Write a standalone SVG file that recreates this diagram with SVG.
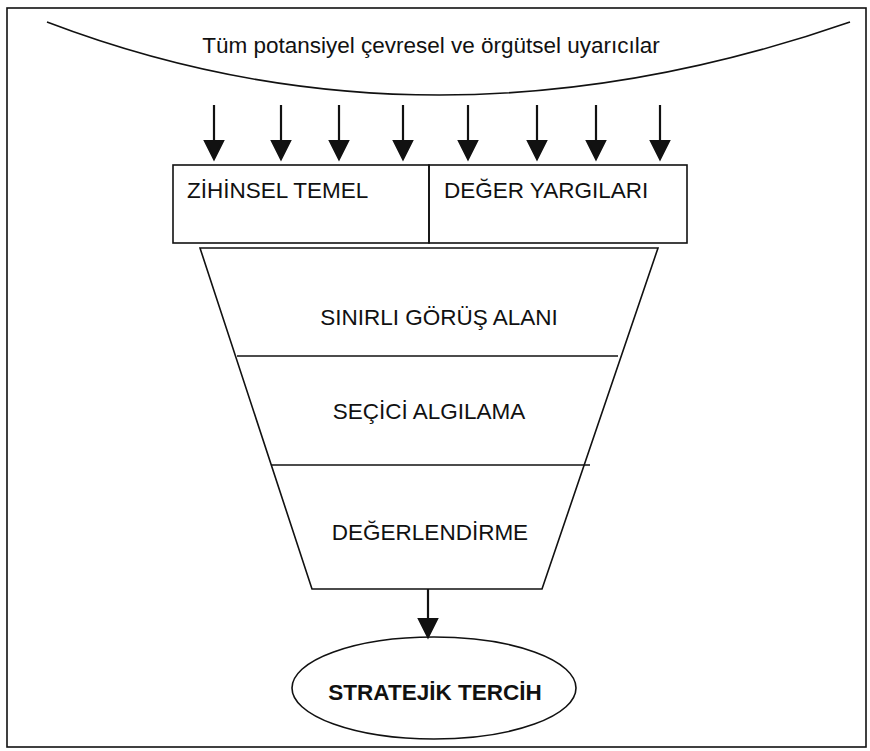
<svg xmlns="http://www.w3.org/2000/svg" width="870" height="751" viewBox="0 0 870 751">
<defs>
<style>
.ln{fill:none;stroke:#111;stroke-width:1.6}
.t{font-family:"Liberation Sans",Arial,sans-serif;font-size:22.5px;fill:#111}
.b{font-weight:bold}
</style>
</defs>
<rect x="0" y="0" width="870" height="751" fill="#fff"/>
<rect x="7" y="8" width="859" height="739" class="ln"/>
<g id="uyaricilar">
<path d="M47,22 Q430,168 850,22" class="ln"/>
<text x="431" y="53" class="t" text-anchor="middle">Tüm potansiyel çevresel ve örgütsel uyarıcılar</text>
</g>
<g id="connectors">
<g stroke="#111" stroke-width="2.2" fill="#111">
<line x1="214" y1="105" x2="214" y2="142"/><path d="M205,141 L223,141 L214,159 z"/>
<line x1="281" y1="105" x2="281" y2="142"/><path d="M272,141 L290,141 L281,159 z"/>
<line x1="339" y1="105" x2="339" y2="142"/><path d="M330,141 L348,141 L339,159 z"/>
<line x1="403" y1="105" x2="403" y2="142"/><path d="M394,141 L412,141 L403,159 z"/>
<line x1="468" y1="105" x2="468" y2="142"/><path d="M459,141 L477,141 L468,159 z"/>
<line x1="537" y1="105" x2="537" y2="142"/><path d="M528,141 L546,141 L537,159 z"/>
<line x1="596" y1="105" x2="596" y2="142"/><path d="M587,141 L605,141 L596,159 z"/>
<line x1="660" y1="105" x2="660" y2="142"/><path d="M651,141 L669,141 L660,159 z"/>
<line x1="428" y1="589" x2="428" y2="620"/><path d="M419,619 L437,619 L428,637 z"/>
</g>
</g>
<g id="zihinsel-temel">
<rect x="173" y="165" width="256" height="78" class="ln"/>
<text x="187" y="198" class="t">ZİHİNSEL TEMEL</text>
</g>
<g id="deger-yargilari">
<rect x="429" y="165" width="258" height="78" class="ln"/>
<text x="444" y="198" class="t">DEĞER YARGILARI</text>
</g>
<g id="huni">
<path d="M200,248 L658,248 L542,589 L312,589 Z" class="ln"/>
<line x1="237" y1="356" x2="618" y2="356" class="ln"/>
<line x1="271" y1="465" x2="590" y2="465" class="ln"/>
</g>
<g id="sinirli-gorus-alani">
<text x="439" y="325" class="t" text-anchor="middle">SINIRLI GÖRÜŞ ALANI</text>
</g>
<g id="secici-algilama">
<text x="429" y="419" class="t" text-anchor="middle">SEÇİCİ ALGILAMA</text>
</g>
<g id="degerlendirme">
<text x="430" y="540" class="t" text-anchor="middle">DEĞERLENDİRME</text>
</g>
<g id="stratejik-tercih">
<ellipse cx="434" cy="688" rx="142" ry="51" class="ln"/>
<text x="435" y="700" class="t b" text-anchor="middle">STRATEJİK TERCİH</text>
</g>
</svg>
